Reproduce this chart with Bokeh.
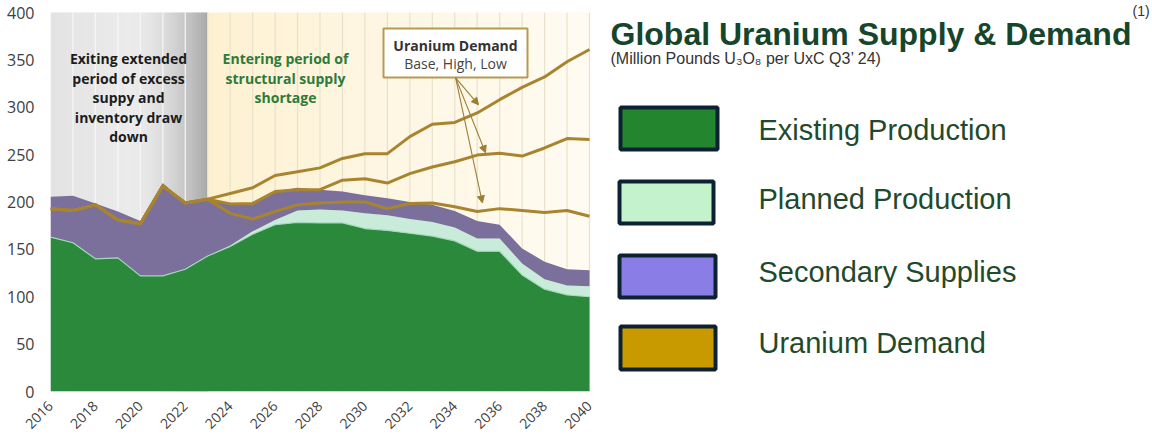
import numpy as np
from bokeh.plotting import figure
from bokeh.models import Range1d, FixedTicker, Arrow, NormalHead
from bokeh.core.properties import value
from bokeh.embed import file_html
from bokeh.resources import INLINE

# ---------------- data ----------------
years = list(range(2016, 2041))
existing = [163, 157, 140, 141, 122, 122, 129, 143, 153, 166, 176, 178.5, 178,
            178, 172, 170, 167, 164, 159, 148, 148, 123, 108, 102, 100]
planned = [0, 0, 0, 0, 0, 0, 0, 0, 1, 3, 5, 12.5, 14,
           13, 16, 16, 15, 15, 14, 13.5, 13.5, 12, 10.5, 10, 11]
secondary = [42.5, 49.5, 58.5, 49, 58, 98, 70, 60, 44, 29, 30, 24, 21,
             20, 19, 18, 18, 18, 17.5, 18.5, 14.5, 16, 18.5, 17, 17]
demand_high = [193, 191, 197, 181, 177, 217, 199, 203, 209, 215, 228, 232, 236,
               246, 251, 251, 269, 282, 284, 294, 308, 321, 332, 348, 361]
demand_base = [193, 191, 197, 181, 177, 217, 199, 203, 198, 198.5, 211, 213, 213,
               223, 224.5, 220, 230, 237, 242.5, 249.5, 251.5, 248.5, 257, 267, 266]
demand_low = [193, 191, 197, 181, 177, 217, 199, 203, 188, 182, 190, 197, 199,
              200, 200, 193, 198.5, 199, 195, 190, 193, 191, 189, 191, 185]
x_ticks = list(range(2016, 2041, 2))
y_ticks = list(range(0, 401, 50))
hist_end = 2023

left_note = ["Exiting extended", "period of excess", "suppy and", "inventory draw", "down"]
right_note = ["Entering period of", "structural supply", "shortage"]
box_title = "Uranium Demand"
box_sub = "Base, High, Low"

title_text = "Global Uranium Supply & Demand"
title_note = "(1)"
subtitle_text = "(Million Pounds U\u2083O\u2088 per UxC Q3\u2019 24)"
legend_labels = ["Existing Production", "Planned Production",
                 "Secondary Supplies", "Uranium Demand"]
legend_colors = ["#23862f", "#c4f2cc", "#8b7de6", "#c99a00"]

# ---------------- helpers ----------------
def hex2rgb(h):
    h = h.lstrip("#")
    return [int(h[i:i + 2], 16) for i in (0, 2, 4)]

def lerp(c1, c2, t):
    a, b = hex2rgb(c1), hex2rgb(c2)
    return "#%02x%02x%02x" % tuple(int(round(a[i] + (b[i] - a[i]) * t)) for i in range(3))

# ---------------- layout geometry (pixels) ----------------
W, H = 1152, 439
FL, FB = 50, 391            # frame left / bottom in page pixels
X0_PX, X1_PX = 50, 589      # 2016 and 2040
Y0_PX, Y400_PX = 391, 12    # 0 and 400
xs = (X1_PX - X0_PX) / (years[-1] - years[0])
ys = (Y0_PX - Y400_PX) / 400.0
x_end = years[0] + (W - FL) / xs
y_end = Y0_PX / ys

p = figure(width=W, height=H, x_range=Range1d(years[0], x_end), y_range=Range1d(0, y_end),
           output_backend="svg", toolbar_location=None,
           min_border_left=FL, min_border_right=0, min_border_top=0, min_border_bottom=H - FB)
p.extra_x_ranges = {"px": Range1d(FL, W)}
p.extra_y_ranges = {"px": Range1d(FB, 0)}
p.outline_line_color = None
p.grid.visible = False
p.background_fill_color = "white"
p.border_fill_color = "white"

# gray gradient band (history)
n = 70
edges = np.linspace(years[0], hist_end, n + 1)
gcols = []
for i in range(n):
    t = (i + 0.5) / n
    if t < 0.5:
        gcols.append(lerp("#e3e3e3", "#ebebeb", t / 0.5))
    else:
        gcols.append(lerp("#ebebeb", "#a8a8a8", ((t - 0.5) / 0.5) ** 1.8))
rights = edges[1:].copy()
rights[:-1] += 0.03
p.quad(left=edges[:-1], right=rights, bottom=0, top=400, fill_color=gcols, line_color=None)

# cream gradient band (forecast)
edges2 = np.linspace(hist_end, years[-1], n + 1)
ccols = [lerp("#fdf0cd", "#fffbf2", ((i + 0.5) / n) ** 0.7) for i in range(n)]
rights2 = edges2[1:].copy()
rights2[:-1] += 0.03
p.quad(left=edges2[:-1], right=rights2, bottom=0, top=400, fill_color=ccols, line_color=None)

# vertical year lines
gx = years[1:]
gc = ["#f6f6f6" if y < hist_end else "#e9e1cc" for y in gx]
p.segment(x0=gx, y0=0, x1=gx, y1=400, line_color=gc, line_width=1.2)

# stacked areas
y_ex = np.array(existing, dtype=float)
y_pl = y_ex + np.array(planned, dtype=float)
y_tot = y_pl + np.array(secondary, dtype=float)
p.varea(x=years, y1=0, y2=y_ex, fill_color="#2b893c")
p.varea(x=years, y1=y_ex, y2=y_pl, fill_color="#c8ecd9")
p.varea(x=years, y1=y_pl, y2=y_tot, fill_color="#7b709b")
p.line(years, y_ex, line_color="#a3d9bb", line_width=1.2)

# demand lines
for d in (demand_low, demand_base, demand_high):
    p.line(years, d, line_color="#a8842f", line_width=3, line_join="round")

# text notes (pixel coordinates)
p.text(x=[128] * len(left_note), y=[58, 78, 97, 117, 136], text=left_note,
       x_range_name="px", y_range_name="px",
       text_align="center", text_baseline="middle", text_font=value("Open Sans"),
       text_font_style="bold", text_font_size="14px", text_color="#1c1c1c")
p.text(x=[285] * len(right_note), y=[58, 78, 97], text=right_note,
       x_range_name="px", y_range_name="px",
       text_align="center", text_baseline="middle", text_font=value("Open Sans"),
       text_font_style="bold", text_font_size="14px", text_color="#2e7a3a")

# demand call-out box
p.quad(left=[383], right=[527], top=[28], bottom=[77], x_range_name="px", y_range_name="px",
       fill_color="white", line_color="#b79a52", line_width=2)
p.text(x=[455], y=[45], text=[box_title], x_range_name="px", y_range_name="px",
       text_align="center", text_baseline="middle",
       text_font=value("Open Sans"), text_font_style="bold", text_font_size="14px",
       text_color="#333333")
p.text(x=[455], y=[63], text=[box_sub], x_range_name="px", y_range_name="px",
       text_align="center", text_baseline="middle",
       text_font=value("Open Sans"), text_font_size="14px", text_color="#444444")
for (xe, ye) in [(2035.06, 302.6), (2035.37, 251.9), (2035.23, 199)]:
    p.add_layout(Arrow(end=NormalHead(size=7, fill_color="#9c7f33", line_color="#9c7f33"),
                       x_start=2034.04, y_start=331, x_end=xe, y_end=ye,
                       line_color="#9c7f33", line_width=1.1))

# axes
p.xaxis.ticker = FixedTicker(ticks=x_ticks)
p.yaxis.ticker = FixedTicker(ticks=y_ticks)
p.xaxis.major_label_orientation = np.pi / 4
for ax in (p.xaxis, p.yaxis):
    ax.axis_line_color = None
    ax.major_tick_line_color = None
    ax.minor_tick_line_color = None
    ax.major_tick_out = 0
    ax.major_tick_in = 0
    ax.major_label_text_font = "Open Sans"
    ax.major_label_text_color = "#404040"
p.yaxis.major_label_text_font_size = "16px"
p.yaxis.major_label_standoff = 16
p.xaxis.major_label_text_font_size = "14px"
p.xaxis.major_label_standoff = 12

# ---------------- title + legend (pixel coordinates) ----------------
p.text(x=[610], y=[33], text=[title_text], x_range_name="px", y_range_name="px",
       text_baseline="middle",
       text_font=value("Liberation Sans"), text_font_style="bold", text_font_size="32px",
       text_color="#17452a")
p.text(x=[1132], y=[10], text=[title_note], x_range_name="px", y_range_name="px",
       text_baseline="middle",
       text_font=value("Liberation Sans"), text_font_size="14px", text_color="#333333")
p.text(x=[610], y=[58], text=[subtitle_text], x_range_name="px", y_range_name="px",
       text_baseline="middle",
       text_font=value("Liberation Sans"), text_font_size="16px", text_color="#333333")

bl = [618, 617, 617, 618]
br = [719, 715, 717, 717]
bt = [105, 179, 253, 324]
bb = [151, 225, 299, 371]
p.quad(left=[v + 2 for v in bl], right=[v - 2 for v in br],
       top=[v + 2 for v in bt], bottom=[v - 2 for v in bb],
       x_range_name="px", y_range_name="px",
       fill_color=legend_colors, line_color="#0c2233", line_width=4)
p.text(x=[758] * 4, y=[129, 198, 271.5, 342], text=legend_labels,
       x_range_name="px", y_range_name="px", text_baseline="middle",
       text_font=value("Liberation Sans"), text_font_size="29px", text_color="#1f4a2b")

open("out.html", "w").write(file_html(p, INLINE))
